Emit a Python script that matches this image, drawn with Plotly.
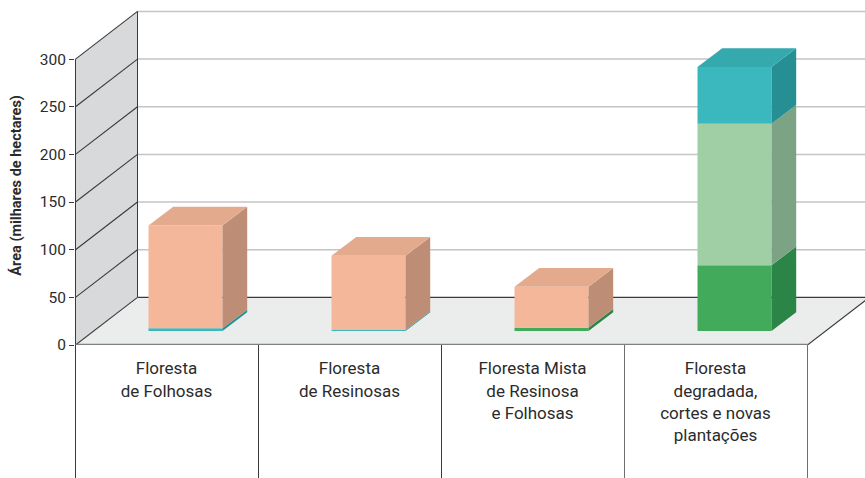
import plotly.graph_objects as go

categories = ["Floresta<br>de Folhosas", "Floresta<br>de Resinosas",
              "Floresta Mista<br>de Resinosa<br>e Folhosas",
              "Floresta<br>degradada,<br>cortes e novas<br>plantações"]
y_ticks = [0, 50, 100, 150, 200, 250, 300]
green = [0, 0, 3.5, 69]
light_green = [0, 0, 0, 148.5]
teal = [2.8, 1, 0, 59.5]
salmon = [108, 78, 43, 0]

W, H = 865, 478
AX_L, AX_B = 75, 344.6
PX_X, PX_Y = 183.0, 0.952
XMAX = (W - AX_L) / PX_X
YMAX = AX_B / PX_Y
WALL_DX, WALL_DY = 62.5 / PX_X, 50.0
BAR_DX, BAR_DY = 24.7 / PX_X, 19.6
BAR_W = 74 / PX_X
BAR_LIFT = 14.7
BAR_OFF = 19 / PX_X
SHARP = 0.5 / PX_X
N = len(categories)
centers = [i + 0.5 for i in range(N)]

series = [
    ("Verde", green, "#41ab5b", "#41ab5b", "#2b8546"),
    ("Verde claro", light_green, "#a0cfa6", "#90bb96", "#7ca383"),
    ("Azul", teal, "#3ab8bd", "#34a9ae", "#268f94"),
    ("Salmão", salmon, "#f4b79a", "#e3aa8e", "#bd8d75"),
]

fig = go.Figure()
shapes = []
DARK = "#3a3a3a"

def line(x0, y0, x1, y1, color=DARK, width=1, layer="below", yref="y"):
    shapes.append(dict(type="line", xref="x", yref=yref, x0=x0, y0=y0, x1=x1, y1=y1,
                       line=dict(color=color, width=width), layer=layer))

# wall and floor
shapes.append(dict(type="path", layer="below", line=dict(width=0), fillcolor="#d8d9db",
                   path=f"M{SHARP},0 L{WALL_DX},{WALL_DY} L{WALL_DX},{y_ticks[-1]+WALL_DY} L{SHARP},{y_ticks[-1]} Z"))
shapes.append(dict(type="path", layer="below", line=dict(width=0), fillcolor="#ebedec",
                   path=f"M{SHARP},0 L{N},0 L{N+WALL_DX},{WALL_DY} L{WALL_DX},{WALL_DY} Z"))
for v in y_ticks[1:]:
    line(WALL_DX, v + WALL_DY, XMAX, v + WALL_DY, color="#c4c4c4", width=1.5)
line(WALL_DX, WALL_DY, XMAX, WALL_DY, width=1.2)
for v in y_ticks:
    line(SHARP, v, WALL_DX, v + WALL_DY, width=1.1)
line(SHARP, 0, SHARP, y_ticks[-1], width=1)
line(WALL_DX, WALL_DY, WALL_DX, y_ticks[-1] + WALL_DY, width=1)
line(N + SHARP, 0, N + WALL_DX, WALL_DY, width=1.1)

# dividers below the floor
for i in range(N + 1):
    shapes.append(dict(type="line", xref="x", yref="paper", x0=i + SHARP, x1=i + SHARP, y0=0,
                       y1=-(H - AX_B) / AX_B,
                       line=dict(color=DARK if i < 3 else "#6e6e6e", width=1)))
line(SHARP, 0, N + SHARP, 0, color="#808080", width=2.5, layer="above")

# stacked bars: front faces
base = [BAR_LIFT] * N
for name, vals, front, top, side in series:
    xs = [c + BAR_OFF for c in centers]
    fig.add_trace(go.Bar(x=centers, y=vals, base=base, width=BAR_W, offset=BAR_OFF - BAR_W / 2,
                         marker=dict(color=front, line=dict(width=0)), name=name, showlegend=False,
                         hoverinfo="skip"))
    # side faces, from the same values
    for i, (c, v) in enumerate(zip(xs, vals)):
        if v <= 0:
            continue
        xr = c + BAR_W / 2
        fig.add_trace(go.Scatter(x=[xr, xr + BAR_DX, xr + BAR_DX, xr, xr],
                                 y=[base[i], base[i] + BAR_DY, base[i] + v + BAR_DY, base[i] + v, base[i]],
                                 mode="lines", fill="toself", fillcolor=side, line=dict(width=0),
                                 showlegend=False, hoverinfo="skip"))
    base = [b + v for b, v in zip(base, vals)]

# top faces take the colour of the uppermost segment
for i, c in enumerate(centers):
    top_color = next(s[3] for s in reversed(series) if s[1][i] > 0)
    x0 = c + BAR_OFF - BAR_W / 2
    x1 = x0 + BAR_W
    t = base[i]
    fig.add_trace(go.Scatter(x=[x0, x1, x1 + BAR_DX, x0 + BAR_DX, x0],
                             y=[t, t, t + BAR_DY, t + BAR_DY, t],
                             mode="lines", fill="toself", fillcolor=top_color, line=dict(width=0),
                             showlegend=False, hoverinfo="skip"))

FONT = "Roboto, Liberation Sans, sans-serif"
fig.update_layout(
    width=W, height=H, margin=dict(l=AX_L, r=0, t=0, b=H - AX_B, pad=0, autoexpand=False),
    paper_bgcolor="white", plot_bgcolor="white", barmode="overlay", showlegend=False,
    shapes=shapes,
    xaxis=dict(range=[0, XMAX], tickmode="array", tickvals=centers, ticktext=categories,
               ticks="outside", ticklen=8, tickcolor="rgba(0,0,0,0)", showgrid=False, zeroline=False,
               showline=False, tickangle=0, tickfont=dict(family=FONT, size=17, color="#2b2b2b")),
    yaxis=dict(range=[0, YMAX], tickmode="array", tickvals=y_ticks, ticks="outside", ticklen=5,
               tickwidth=1, tickcolor=DARK, showgrid=False, zeroline=False, showline=False,
               tickfont=dict(family=FONT, size=15.5, color="#2b2b2b")),
    annotations=[dict(text="<b>Área (milhares de hectares)</b>", xref="paper", yref="y",
                      x=(16.5 - AX_L) / (W - AX_L),
                      y=(AX_B - 185) / PX_Y, textangle=-90, showarrow=False, xanchor="center", yanchor="middle",
                      font=dict(family=FONT, size=14.5, color="#2b2b2b"))],
)
fig.write_html("out.html", config={"displayModeBar": False}, post_script="document.body.style.margin='0';")
